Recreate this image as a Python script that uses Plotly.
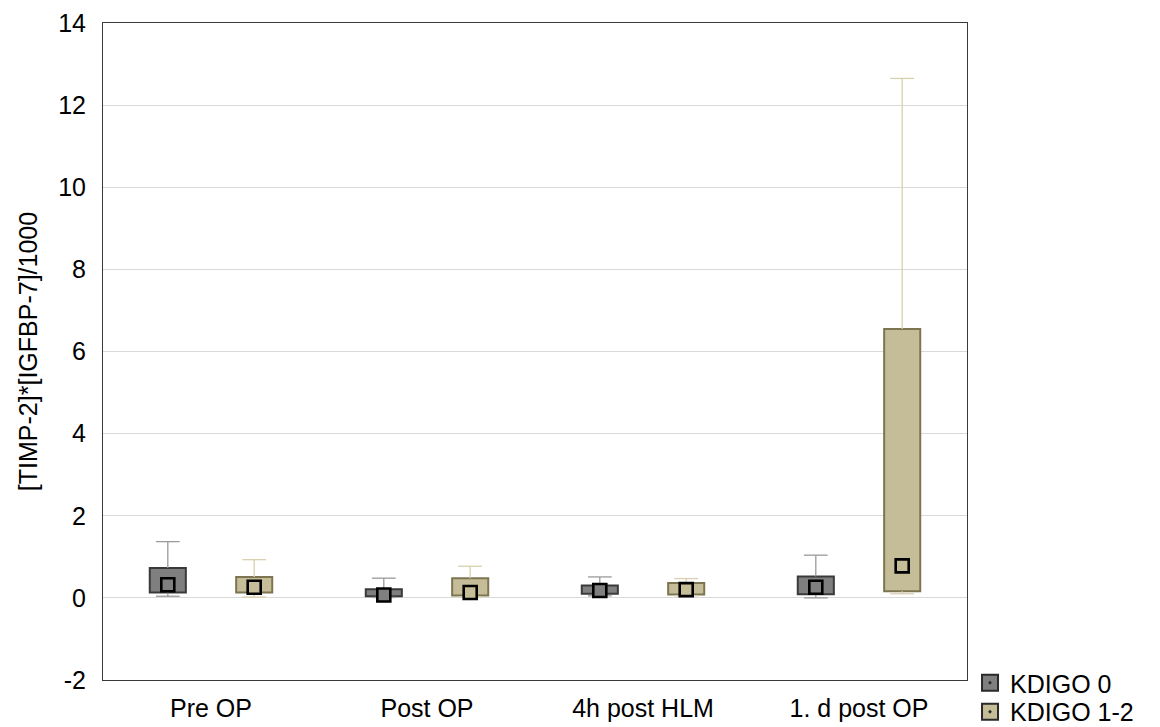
import plotly.graph_objects as go

categories = ["Pre OP", "Post OP", "4h post HLM", "1. d post OP"]
series_names = ["KDIGO 0", "KDIGO 1-2"]

# median, 25%, 75%, min, max
k0_median = [0.32, 0.07, 0.18, 0.26]
k0_q1 = [0.13, 0.04, 0.10, 0.09]
k0_q3 = [0.73, 0.21, 0.30, 0.52]
k0_min = [0.04, 0.01, 0.05, 0.00]
k0_max = [1.37, 0.48, 0.51, 1.04]

k12_median = [0.26, 0.13, 0.20, 0.78]
k12_q1 = [0.13, 0.06, 0.08, 0.16]
k12_q3 = [0.51, 0.48, 0.36, 6.55]
k12_min = [0.02, 0.02, 0.05, 0.10]
k12_max = [0.93, 0.77, 0.47, 12.65]

ytick_vals = [-2, 0, 2, 4, 6, 8, 10, 12, 14]
ytick_text = ["-2", "0", "2", "4", "6", "8", "10", "12", "14"]

series = [
    dict(name=series_names[0], med=k0_median, q1=k0_q1, q3=k0_q3, mn=k0_min, mx=k0_max,
         fill="#7f7f7f", edge="#3a3a3a", whisk="#9a9a9a", off=-0.2, legend="legend", ly=-0.0046),
    dict(name=series_names[1], med=k12_median, q1=k12_q1, q3=k12_q3, mn=k12_min, mx=k12_max,
         fill="#c5bd97", edge="#7d7551", whisk="#d8d0ae", off=0.2, legend="legend2", ly=-0.0487),
]

fig = go.Figure()
FONT = "Liberation Sans, Arial, sans-serif"

for s in series:
    xs = [i + s["off"] for i in range(len(categories))]
    fig.add_trace(go.Bar(
        x=xs, y=[b - a for a, b in zip(s["q1"], s["q3"])], base=s["q1"],
        width=0.167, name=s["name"], showlegend=False,
        marker=dict(color=s["fill"], line=dict(color=s["edge"], width=2)),
        hoverinfo="skip",
    ))

for s in series:
    xs = [i + s["off"] for i in range(len(categories))]
    wx, wy = [], []
    for x, a, b, lo, hi in zip(xs, s["q1"], s["q3"], s["mn"], s["mx"]):
        wx += [x, x, None, x, x, None]
        wy += [b, hi, None, a, lo, None]
    fig.add_trace(go.Scatter(
        x=wx, y=wy, mode="lines", line=dict(color=s["whisk"], width=1.3),
        showlegend=False, hoverinfo="skip",
    ))
    fig.add_trace(go.Scatter(
        x=xs + xs, y=s["mx"] + s["mn"], mode="markers",
        marker=dict(symbol="line-ew", size=17, line=dict(color=s["whisk"], width=1.3)),
        showlegend=False, hoverinfo="skip",
    ))

for s in series:
    xs = [i + s["off"] for i in range(len(categories))]
    fig.add_trace(go.Scatter(
        x=xs, y=s["med"], mode="markers",
        marker=dict(symbol="square", size=13, color=s["fill"], line=dict(color="#000000", width=2.6)),
        showlegend=False, name=s["name"],
    ))

# legend entries
for s in series:
    fig.add_trace(go.Scatter(
        x=[None], y=[None], mode="markers", name=s["name"], legend=s["legend"],
        marker=dict(symbol="square-dot", size=16, color=s["fill"], line=dict(color="#2a2a2a", width=2)),
        showlegend=True,
    ))

legend_common = dict(xanchor="left", yanchor="middle", font=dict(size=25, family=FONT, color="#000000"),
                     bgcolor="rgba(0,0,0,0)", borderwidth=0, itemsizing="trace")

fig.update_layout(
    width=1160, height=727,
    margin=dict(l=95, r=201, t=15, b=55, autoexpand=False),
    paper_bgcolor="white", plot_bgcolor="white",
    barmode="overlay",
    font=dict(family=FONT, size=25, color="#000000"),
    showlegend=True,
    legend=dict(x=1.0035, y=series[0]["ly"], **legend_common),
    legend2=dict(x=1.0035, y=series[1]["ly"], **legend_common),
    xaxis=dict(
        range=[-0.5, 3.5], tickvals=list(range(len(categories))), ticktext=categories,
        showgrid=False, zeroline=False, showline=True, linecolor="#3a3a3a", linewidth=1,
        mirror=True, ticks="", tickfont=dict(size=25), ticklabelstandoff=6, automargin=False,
    ),
    yaxis=dict(
        range=[-2, 14], tickvals=ytick_vals, ticktext=ytick_text,
        showgrid=True, gridcolor="#d9d9d9", gridwidth=1, zeroline=False,
        showline=True, linecolor="#3a3a3a", linewidth=1, mirror=True, ticks="",
        tickfont=dict(size=25), ticklabelstandoff=11, automargin=False,
        title=dict(text="[TIMP-2]*[IGFBP-7]/1000", font=dict(size=25), standoff=13),
    ),
)

fig.write_html("out.html")
